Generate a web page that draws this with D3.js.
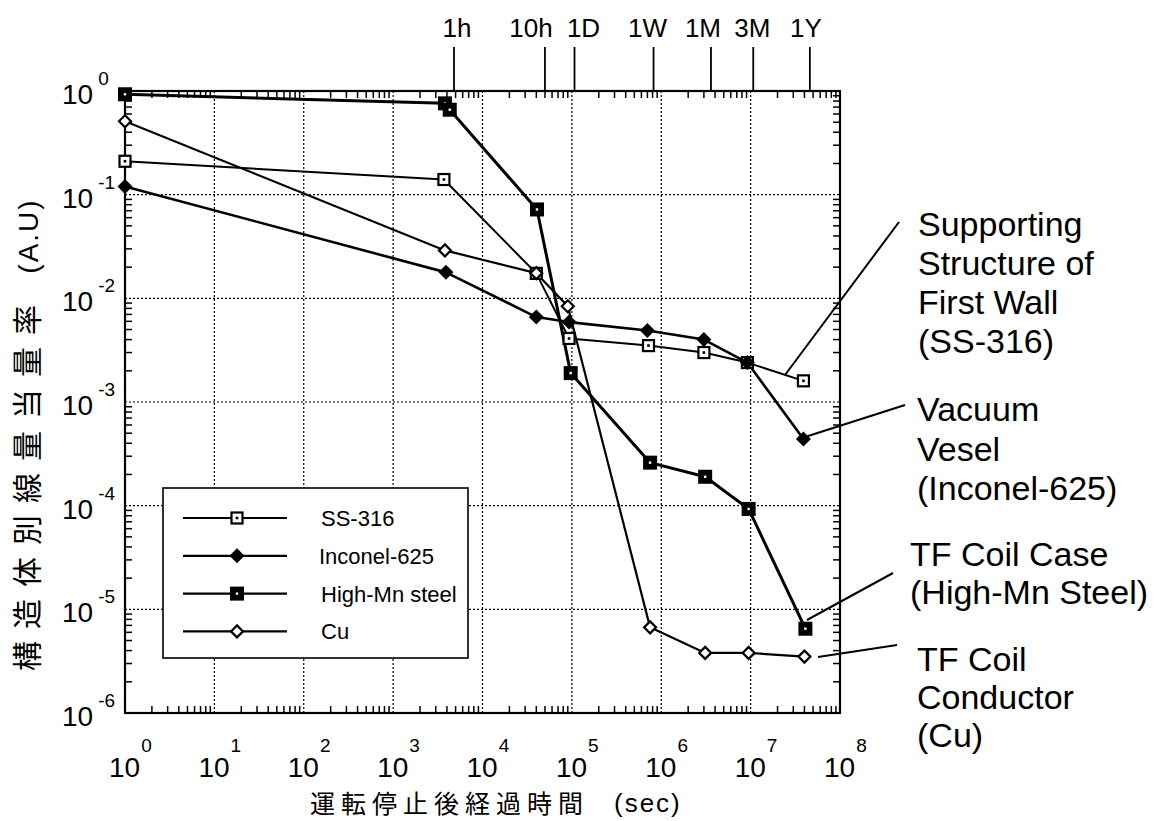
<!DOCTYPE html>
<html><head><meta charset="utf-8">
<script src="https://cdn.jsdelivr.net/npm/d3@7"></script>
<style>body{margin:0;background:#fff}</style>
</head><body><svg id="c" width="1161" height="821"></svg>
<script>
// ---------------- data ----------------
const seriesNames = ["SS-316", "Inconel-625", "High-Mn steel", "Cu"];
const ssTime   = [1, 3700, 40000, 93000, 7.2e5, 3.0e6, 9.2e6, 3.9e7];
const ssDose   = [0.21, 0.14, 0.0174, 0.0041, 0.0035, 0.0030, 0.0024, 0.0016];
const incTime  = [1, 3900, 40000, 93000, 7.0e5, 3.0e6, 9.2e6, 3.9e7];
const incDose  = [0.12, 0.0178, 0.0066, 0.0059, 0.0049, 0.0040, 0.0024, 0.00044];
const mnTime   = [1, 3800, 4300, 40700, 97000, 7.5e5, 3.1e6, 9.5e6, 4.1e7];
const mnDose   = [0.93, 0.76, 0.66, 0.072, 0.0019, 0.00026, 0.00019, 0.000093, 0.0000065];
const cuTime   = [1, 3800, 40000, 90000, 7.5e5, 3.1e6, 9.5e6, 4.0e7];
const cuDose   = [0.51, 0.029, 0.0175, 0.0084, 0.0000067, 0.0000038, 0.0000038, 0.0000035];

const xExponents = [0, 1, 2, 3, 4, 5, 6, 7, 8];
const yExponents = [0, -1, -2, -3, -4, -5, -6];
const topLabels  = ["1h", "10h", "1D", "1W", "1M", "3M", "1Y"];
const topSeconds = [4800, 50000, 107000, 8.2e5, 3.6e6, 1.07e7, 4.6e7];

const annotationTexts = [
  ["Supporting", "Structure of", "First Wall", "(SS-316)"],
  ["Vacuum", "Vesel", "(Inconel-625)"],
  ["TF Coil Case", "(High-Mn Steel)"],
  ["TF Coil", "Conductor", "(Cu)"]
];
const xTitle = "運転停止後経過時間";
const xUnit  = "(sec)";
const yTitle = "構造体別線量当量率";
const yUnit  = "(A.U)";

// ---------------- layout ----------------
const L = 125, R = 840, T = 91, B = 713;
const LATIN = "'Liberation Sans', Arial, Helvetica, sans-serif";
const CJK = "'Noto Sans CJK JP', 'Noto Sans CJK SC', sans-serif";
const topLabelShift = [3, -14, 9, -6, -8, -1, -4];

const svg = d3.select("#c");
const x = d3.scaleLog().domain([1, 1e8]).range([L, R]);
const y = d3.scaleLog().domain([1e-6, 1]).range([B, T]);

// grid lines
const g = svg.append("g");
g.selectAll(".gx").data(xExponents.slice(1, -1)).join("line")
  .attr("x1", d => x(Math.pow(10, d))).attr("x2", d => x(Math.pow(10, d)))
  .attr("y1", T).attr("y2", B)
  .attr("stroke", "#000").attr("stroke-width", 1.2).attr("stroke-dasharray", "2,2");
g.selectAll(".gy").data(yExponents.slice(1, -1)).join("line")
  .attr("y1", d => y(Math.pow(10, d))).attr("y2", d => y(Math.pow(10, d)))
  .attr("x1", L).attr("x2", R)
  .attr("stroke", "#000").attr("stroke-width", 1.2).attr("stroke-dasharray", "2,2");

// minor ticks
const xMinor = [], yMinor = [];
for (let e = 0; e < 8; e++) for (let m = 2; m <= 9; m++) xMinor.push(m * Math.pow(10, e));
for (let e = -6; e < 0; e++) for (let m = 2; m <= 9; m++) yMinor.push(m * Math.pow(10, e));
const tl = 7;
g.selectAll(".tb").data(xMinor).join("line")
  .attr("x1", d => x(d)).attr("x2", d => x(d)).attr("y1", B).attr("y2", B - tl)
  .attr("stroke", "#000").attr("stroke-width", 1.5);
g.selectAll(".tt").data(xMinor).join("line")
  .attr("x1", d => x(d)).attr("x2", d => x(d)).attr("y1", T).attr("y2", T + tl)
  .attr("stroke", "#000").attr("stroke-width", 1.5);
g.selectAll(".tlft").data(yMinor).join("line")
  .attr("y1", d => y(d)).attr("y2", d => y(d)).attr("x1", L).attr("x2", L + tl)
  .attr("stroke", "#000").attr("stroke-width", 1.5);
g.selectAll(".trgt").data(yMinor).join("line")
  .attr("y1", d => y(d)).attr("y2", d => y(d)).attr("x1", R).attr("x2", R - tl)
  .attr("stroke", "#000").attr("stroke-width", 1.5);

// frame
svg.append("rect").attr("x", L).attr("y", T).attr("width", R - L).attr("height", B - T)
  .attr("fill", "none").attr("stroke", "#000").attr("stroke-width", 2.2);

// top time axis
const topG = svg.append("g");
topG.selectAll("line").data(topSeconds).join("line")
  .attr("x1", d => x(d)).attr("x2", d => x(d)).attr("y1", T).attr("y2", 47)
  .attr("stroke", "#000").attr("stroke-width", 1.8);
topG.selectAll("text").data(topLabels).join("text")
  .attr("x", (d, i) => x(topSeconds[i]) + topLabelShift[i]).attr("y", 37)
  .attr("text-anchor", "middle").attr("font-family", LATIN).attr("font-size", 26)
  .text(d => d);

// bottom labels (10 with superscript exponent)
const bx = svg.append("g");
xExponents.forEach(e => {
  const px = x(Math.pow(10, e));
  const t = bx.append("text").attr("x", px - 16).attr("y", 777)
    .attr("font-family", LATIN).attr("font-size", 28);
  t.append("tspan").text("10");
  t.append("tspan").attr("dx", 1).attr("dy", -25).attr("font-size", 19).text(String(e));
});
// left labels
yExponents.forEach(e => {
  const py = y(Math.pow(10, e));
  const t = bx.append("text").attr("x", 62).attr("y", py + 13)
    .attr("font-family", LATIN).attr("font-size", 28);
  t.append("tspan").text("10");
  t.append("tspan").attr("dx", 5).attr("dy", -19).attr("font-size", 19)
    .text(e === 0 ? "0" : "-" + Math.abs(e));
});

// axis titles
svg.append("text").attr("transform", "translate(38,482) rotate(-90)")
  .attr("text-anchor", "middle").attr("font-family", CJK).attr("font-size", 30)
  .attr("letter-spacing", 12).text(yTitle);
svg.append("text").attr("transform", "translate(38,236) rotate(-90)")
  .attr("text-anchor", "middle").attr("font-family", LATIN).attr("font-size", 28)
  .attr("letter-spacing", 2).text(yUnit);
svg.append("text").attr("x", 310).attr("y", 813)
  .attr("font-family", CJK).attr("font-size", 25).attr("letter-spacing", 6).text(xTitle);
svg.append("text").attr("x", 614).attr("y", 812)
  .attr("font-family", LATIN).attr("font-size", 26).attr("letter-spacing", 2).text(xUnit);

// ---------------- series ----------------
const series = [
  {name: seriesNames[0], t: ssTime, v: ssDose, w: 2, marker: "openSquare"},
  {name: seriesNames[1], t: incTime, v: incDose, w: 2.6, marker: "diamond"},
  {name: seriesNames[2], t: mnTime, v: mnDose, w: 3, marker: "fillSquare"},
  {name: seriesNames[3], t: cuTime, v: cuDose, w: 2.2, marker: "openDiamond"}
];
const line = d3.line().x(d => x(d[0])).y(d => y(d[1]));
const lineG = svg.append("g");
series.forEach(s => {
  lineG.append("path").datum(s.t.map((t, i) => [t, s.v[i]]))
    .attr("d", line).attr("fill", "none").attr("stroke", "#000")
    .attr("stroke-width", s.w).attr("stroke-linejoin", "round");
});

function drawMarker(sel, type, cx, cy) {
  const m = sel.append("g").attr("transform", `translate(${cx},${cy})`);
  if (type === "openSquare") {
    m.append("rect").attr("x", -5.5).attr("y", -5.5).attr("width", 11).attr("height", 11)
      .attr("fill", "#fff").attr("stroke", "#000").attr("stroke-width", 2.2);
    m.append("rect").attr("x", -1.3).attr("y", -1.3).attr("width", 2.6).attr("height", 2.6).attr("fill", "#000");
  } else if (type === "fillSquare") {
    m.append("rect").attr("x", -7).attr("y", -7).attr("width", 14).attr("height", 14).attr("fill", "#000");
    m.append("rect").attr("x", -1.2).attr("y", -1.2).attr("width", 2.4).attr("height", 2.4).attr("fill", "#fff");
  } else if (type === "diamond") {
    m.append("path").attr("d", "M0,-7.5L7.5,0L0,7.5L-7.5,0Z").attr("fill", "#000");
  } else {
    m.append("path").attr("d", "M0,-6L6,0L0,6L-6,0Z").attr("fill", "#fff")
      .attr("stroke", "#000").attr("stroke-width", 2.2);
  }
}
const markG = svg.append("g");
series.forEach(s => {
  s.t.forEach((t, i) => drawMarker(markG, s.marker, x(t), y(s.v[i])));
});

// ---------------- legend ----------------
const lg = svg.append("g");
lg.append("rect").attr("x", 163).attr("y", 488).attr("width", 305).attr("height", 170)
  .attr("fill", "#fff").attr("stroke", "#000").attr("stroke-width", 1.6);
series.forEach((s, i) => {
  const ly = 518 + i * 37.8;
  lg.append("line").attr("x1", 183).attr("x2", 287).attr("y1", ly).attr("y2", ly)
    .attr("stroke", "#000").attr("stroke-width", Math.min(s.w, 2.2));
  drawMarker(lg, s.marker, 237, ly);
  lg.append("text").attr("x", i === 1 ? 319 : 321).attr("y", ly + 8)
    .attr("font-family", LATIN).attr("font-size", 22).text(s.name);
});

// ---------------- annotations ----------------
const annLayout = [
  {tx: 918, ty: 236, dy: 39, from: [785, 375], to: [899, 222]},
  {tx: 917, ty: 421, dy: 39.5, from: [805, 437], to: [905, 405]},
  {tx: 910, ty: 566, dy: 38, from: [807, 620], to: [893, 573]},
  {tx: 917, ty: 671, dy: 38, from: [818, 657], to: [897, 645]}
];
const an = svg.append("g");
annotationTexts.forEach((lines, k) => {
  const a = annLayout[k];
  an.append("line").attr("x1", a.from[0]).attr("y1", a.from[1]).attr("x2", a.to[0]).attr("y2", a.to[1])
    .attr("stroke", "#000").attr("stroke-width", 2);
  lines.forEach((t, j) => {
    an.append("text").attr("x", a.tx).attr("y", a.ty + j * a.dy)
      .attr("font-family", LATIN).attr("font-size", 34).text(t);
  });
});
</script>
</body></html>
